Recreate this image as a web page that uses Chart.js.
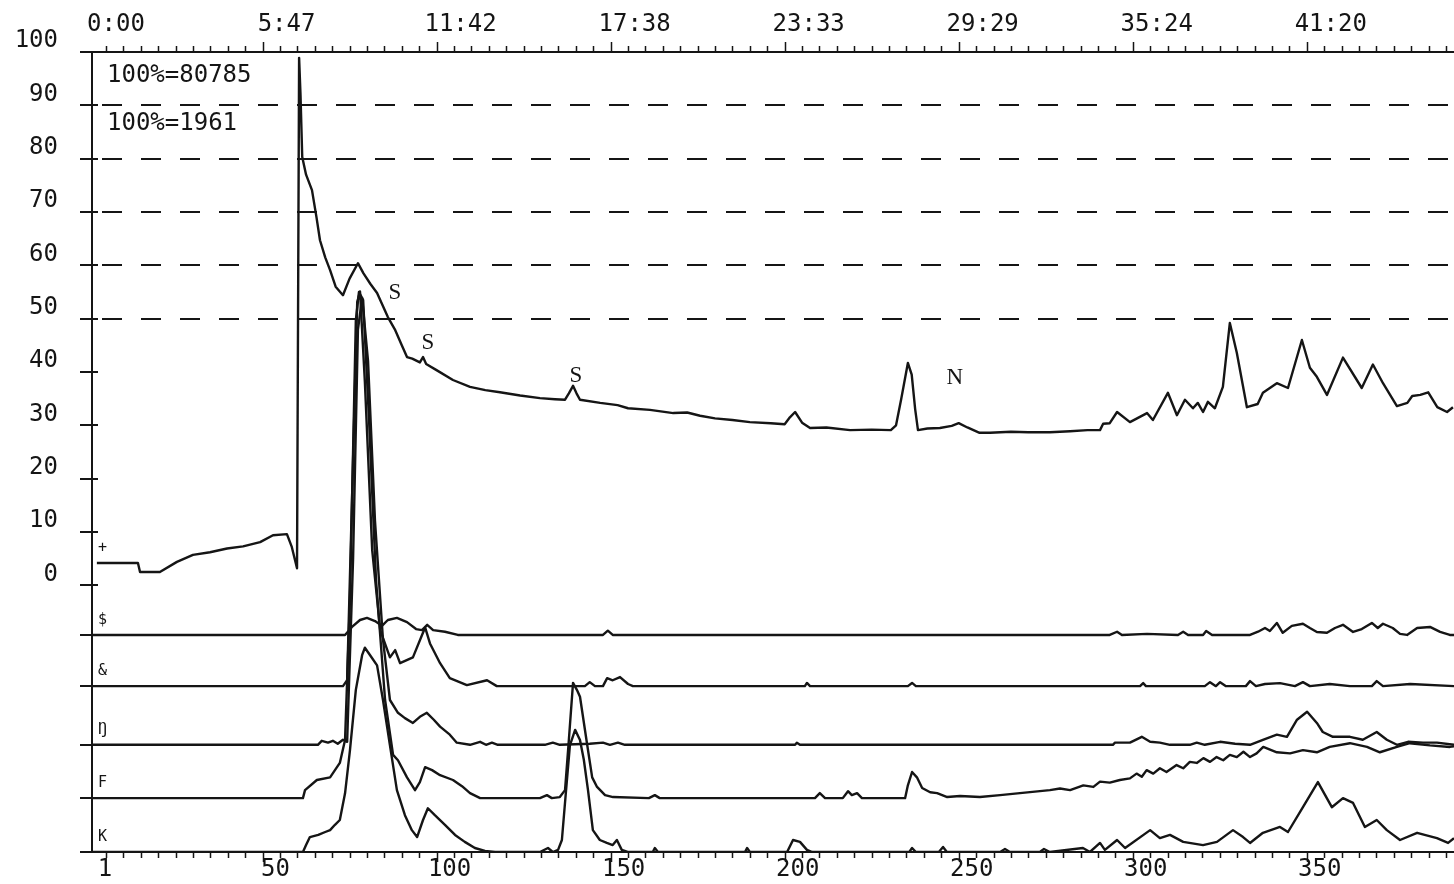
<!DOCTYPE html>
<html lang="en">
<head>
<meta charset="UTF-8">
<title>Chromatogram</title>
<script src="https://cdn.jsdelivr.net/npm/chart.js@4.4.1/dist/chart.umd.min.js"></script>
<style>
  html, body { margin: 0; padding: 0; background: #fff; }
  .wrap { position: relative; width: 1454px; height: 884px; }
</style>
</head>
<body>
<div class="wrap"><canvas id="chart"></canvas></div>
<script>
// axis labels
const scanLabels = [1, 50, 100, 150, 200, 250, 300, 350];
const timeLabels = ['0:00', '5:47', '11:42', '17:38', '23:33', '29:29', '35:24', '41:20'];
const yLabels = [0, 10, 20, 30, 40, 50, 60, 70, 80, 90, 100];
const dashedLevels = [50, 60, 70, 80, 90];

// total ion trace (+)
const scanTic = [2.4, 14.2, 14.8, 20.5, 25.4, 30, 34.9, 39.8, 44.4, 49.3, 53, 57, 58.4, 59.9, 60.5, 60.9, 61.4, 62.5, 64.2, 65.5, 66.5, 68, 69.4, 71, 73.1, 75, 77.4, 79, 81, 82.9, 86, 88, 90, 91.5, 93, 95.2, 96.1, 97, 100.1, 104.7, 109.6, 114, 118.2, 124, 129.7, 134, 136.9, 138, 139.2, 140.2, 141.2, 147, 152, 155, 161.3, 168, 172, 175.7, 180, 185, 190, 196, 200, 201.5, 203, 205, 207.3, 212, 218.8, 225, 230.5, 232, 233.5, 235.4, 236.5, 237.5, 238.3, 241, 244.6, 248, 250, 252.5, 256, 259, 265, 270, 276.2, 282, 287, 290.6, 291.5, 293.4, 295.5, 299.2, 304.1, 305.8, 310.1, 312.7, 315, 317.3, 318.7, 320.2, 321.6, 323.6, 325.9, 327.9, 329.9, 332.8, 335.9, 337.4, 341.4, 344.6, 348.6, 350.9, 352.9, 355.8, 360.4, 365.8, 369, 371.9, 375.9, 378.9, 380.3, 382.6, 384.9, 387.5, 390.3, 392];
const valTic = [4.2, 4.2, 2.5, 2.5, 4.4, 5.7, 6.2, 6.9, 7.3, 8.1, 9.4, 9.6, 7.2, 3.2, 98.9, 92, 80.3, 77, 74.1, 69, 64.7, 61.5, 59.1, 56, 54.4, 57.5, 60.4, 58.5, 56.5, 54.8, 50.3, 48, 45, 42.8, 42.5, 41.8, 42.8, 41.5, 40.3, 38.5, 37.2, 36.6, 36.2, 35.6, 35.1, 34.9, 34.8, 36, 37.4, 36, 34.8, 34.2, 33.8, 33.2, 32.9, 32.3, 32.4, 31.8, 31.3, 31.0, 30.6, 30.4, 30.2, 31.5, 32.5, 30.5, 29.5, 29.6, 29.1, 29.2, 29.1, 30, 35, 41.7, 39.5, 33, 29.1, 29.4, 29.5, 29.9, 30.4, 29.6, 28.6, 28.6, 28.8, 28.7, 28.7, 28.9, 29.1, 29.1, 30.3, 30.4, 32.5, 30.6, 32.3, 31, 36.1, 31.9, 34.8, 33.2, 34.2, 32.5, 34.4, 33.2, 37.2, 49.2, 43.6, 33.4, 34, 36.1, 37.9, 37, 46, 40.8, 39.1, 35.7, 42.7, 37, 41.4, 37.9, 33.6, 34.2, 35.5, 35.7, 36.2, 33.4, 32.5, 33.4];

// ion traces, relative to their own baseline
const scanDollar = [1, 73.7, 75.7, 78, 80, 82.3, 84.3, 86, 88.6, 91.5, 94.1, 95.8, 97.3, 99, 102.4, 106.1, 147.8, 149.2, 150.6, 293.4, 295.5, 296.9, 304.1, 313, 314.5, 315.9, 320.2, 321.1, 322.8, 333.7, 336, 338, 339.4, 341.4, 343.1, 345.7, 348.9, 350.9, 352.9, 355.8, 358.1, 360.4, 363.3, 365.8, 368.7, 370.4, 371.9, 374.7, 376.8, 378.8, 381.7, 385.4, 388.3, 391.1, 392.3];
const relDollar = [0, 0, 1.5, 2.8, 3.2, 2.6, 1.7, 2.8, 3.2, 2.4, 1.1, 0.9, 1.9, 0.9, 0.6, 0, 0, 0.8, 0, 0, 0.6, 0, 0.2, 0, 0.6, 0, 0, 0.75, 0, 0, 0.6, 1.3, 0.75, 2.25, 0.4, 1.7, 2.1, 1.3, 0.56, 0.4, 1.3, 1.9, 0.56, 1.1, 2.25, 1.3, 2.1, 1.3, 0.2, 0, 1.3, 1.5, 0.56, 0, 0];

const scanAmp = [1, 73.1, 74.3, 75.7, 77.2, 78, 79.4, 81.5, 83.8, 86.6, 88.1, 89.5, 93.2, 96.7, 98.1, 101, 103.8, 108.7, 114.5, 117.3, 142.6, 144, 145.5, 147.8, 149, 150.6, 152.7, 155, 156.4, 205.8, 206.4, 207.3, 235.4, 236.6, 237.7, 302.1, 303, 303.8, 320.7, 322.2, 323.9, 325.1, 326.8, 332.5, 333.7, 335.4, 338, 342.3, 346.6, 348.9, 350.9, 356.6, 362.4, 368.7, 370.1, 371.9, 379.7, 392.3];
const relAmp = [0, 0, 1.1, 35, 72, 74, 57, 25.5, 10.5, 5.4, 6.75, 4.3, 5.4, 11, 8, 4.3, 1.5, 0.2, 1.1, 0, 0, 0.75, 0, 0, 1.5, 1.1, 1.7, 0.4, 0, 0, 0.6, 0, 0, 0.6, 0, 0, 0.56, 0, 0, 0.75, 0, 0.75, 0, 0, 0.94, 0, 0.4, 0.56, 0, 0.75, 0, 0.4, 0, 0, 0.94, 0, 0.4, 0];

const scanEng = [1, 65.9, 67, 68.8, 70.2, 71.6, 73.1, 74.3, 76, 77.4, 78.6, 80.3, 82.3, 84.6, 86.6, 88.9, 90.9, 93.2, 95.2, 97.2, 99.2, 101, 103.8, 105.8, 109.6, 112.5, 114.2, 115.9, 117.6, 131.1, 133.4, 135.4, 144, 147.8, 149.8, 152.1, 154.1, 203, 203.5, 204.4, 294.3, 294.9, 299.2, 302.6, 305, 307.8, 310.7, 316.4, 318.4, 320.7, 325.1, 329.4, 333.7, 337.4, 341.4, 344.3, 347.2, 350.1, 352.9, 354.6, 357.5, 362.4, 366.1, 370.1, 373, 375.9, 379.1, 383.4, 387.4, 392.3];
const relEng = [0, 0, 0.75, 0.4, 0.75, 0.2, 0.94, 0.56, 34.7, 77.8, 83.8, 72, 42, 19.7, 8.4, 6, 5, 4.1, 5.25, 6, 4.7, 3.4, 1.9, 0.4, 0, 0.56, 0, 0.4, 0, 0, 0.4, 0, 0.2, 0.4, 0, 0.4, 0, 0, 0.4, 0, 0, 0.4, 0.4, 1.5, 0.56, 0.4, 0, 0, 0.4, 0, 0.56, 0.2, 0, 0.94, 1.9, 1.5, 4.7, 6.2, 4.1, 2.4, 1.5, 1.5, 0.94, 2.4, 0.94, 0, 0.56, 0.4, 0.4, 0];

const scanF = [1, 61.6, 62.2, 65.6, 69.4, 72.2, 73.7, 75.1, 76.8, 77.7, 78.9, 80.6, 82.6, 85.2, 87.5, 88.9, 91.5, 93.8, 95.2, 96.7, 98.7, 101, 104.7, 107.3, 109.6, 112.5, 129.7, 131.7, 133.1, 135.4, 136.9, 138, 139.2, 140.3, 141.2, 143.2, 144.7, 146.1, 148.4, 150.7, 161, 162.7, 164.1, 208.7, 210.1, 211.6, 216.7, 218.2, 219.3, 220.8, 222.2, 234.6, 235.4, 236.6, 238, 239.5, 241.8, 243.8, 246.7, 250.4, 256.1, 261.9, 267.6, 276.2, 279.1, 282, 285.8, 288.7, 290.6, 293.4, 296.3, 299.2, 301.1, 302.6, 304, 305.9, 307.8, 309.7, 312.6, 314.5, 316.4, 318.4, 320.3, 322.2, 324.1, 326, 327.9, 329.9, 331.8, 333.7, 335.6, 337.5, 341.4, 345.2, 348.9, 352.9, 356.6, 362.4, 367.3, 371, 375.9, 379.6, 385.4, 391.1, 392.3];
const relF = [0, 0, 1.5, 3.4, 3.9, 6.6, 10.9, 37, 89.6, 94.9, 93.4, 70.8, 40.9, 18.4, 8.1, 7.1, 3.9, 1.5, 3, 5.8, 5.25, 4.3, 3.4, 2.25, 0.94, 0, 0, 0.56, 0, 0.2, 1.5, 10.9, 21.6, 20.3, 19, 10.3, 3.9, 2.1, 0.56, 0.2, 0, 0.56, 0, 0, 0.94, 0, 0, 1.3, 0.56, 0.94, 0, 0, 2.4, 4.9, 3.9, 1.9, 1.1, 0.94, 0.2, 0.4, 0.2, 0.56, 0.94, 1.5, 1.8, 1.5, 2.4, 2.1, 3.1, 2.9, 3.4, 3.7, 4.6, 4.0, 5.25, 4.6, 5.6, 4.9, 6.2, 5.6, 6.8, 6.6, 7.5, 6.8, 7.7, 7.1, 8.1, 7.7, 8.7, 7.7, 8.4, 9.6, 8.6, 8.4, 9, 8.6, 9.6, 10.3, 9.6, 8.6, 9.6, 10.3, 9.9, 9.6, 9.7];

const scanK = [1, 61.6, 62.5, 63.6, 66, 68, 69.4, 70.8, 72.2, 73.7, 75.1, 76.8, 78.6, 79.4, 80.9, 82.9, 84.6, 86.6, 88.6, 90.9, 92.9, 94.4, 96.1, 97.5, 99.5, 102.4, 105.3, 108.1, 111, 113.9, 116.8, 129.7, 132, 133.4, 134.9, 136, 137.2, 138.3, 139.8, 141.2, 142.3, 143.5, 144.9, 146.9, 148.9, 150.6, 151.8, 153.2, 154.9, 162.1, 162.7, 163.6, 188.6, 189.2, 190, 200.7, 202.4, 204.4, 206.4, 207.9, 235.8, 236.6, 237.7, 244.3, 245.5, 246.6, 261.9, 263.3, 264.7, 273.3, 274.5, 276.2, 285.7, 287.7, 290.6, 292, 295.5, 297.8, 305, 307.8, 310.7, 314.5, 320.2, 324.2, 328.8, 331.7, 333.7, 337.4, 342.3, 344.6, 348.9, 353.2, 357.2, 360.4, 363.3, 366.7, 370.1, 373, 376.8, 381.7, 387.4, 390.6, 392.3];
const relK = [0, 0, 1.3, 2.8, 3.2, 3.75, 4.1, 5.1, 6, 11, 19, 30.4, 36.9, 38.3, 36.9, 35, 28.5, 20, 11.6, 6.9, 4.1, 2.8, 6, 8.2, 6.9, 5.1, 3.2, 1.9, 0.75, 0.2, 0, 0, 0.75, 0, 0.4, 2.25, 11.6, 20, 22.9, 21, 17.3, 11.6, 4.1, 2.25, 1.7, 1.3, 2.25, 0.4, 0, 0, 0.75, 0, 0, 0.75, 0, 0, 2.25, 1.9, 0.4, 0, 0, 0.75, 0, 0, 0.94, 0, 0, 0.56, 0, 0, 0.56, 0, 0.75, 0, 1.7, 0.4, 2.25, 0.75, 4.1, 2.6, 3.2, 1.9, 1.3, 1.9, 4.1, 2.8, 1.7, 3.6, 4.7, 3.75, 8.4, 13.1, 8.4, 10.1, 9.2, 4.7, 6, 4.1, 2.25, 3.6, 2.6, 1.7, 2.6];

// where each trace sits on the percent scale
const traceMarks = ['+', '$', '&', 'Ŋ', 'F', 'K'];
const traceBase = [4.2, -9.3, -18.9, -29.9, -39.9, -50];

const scaleNotes = ['100%=80785', '100%=1961'];
const peakNotes = ['S', 'S', 'S', 'N'];
const peakNoteScan = [88, 97.5, 140, 248.9];
const peakNoteVal = [54.8, 45.4, 39.2, 38.9];

const INK = '#151515';
const MONO = "'DejaVu Sans Mono', monospace";

function toPoints(xs, ys, off) {
    return xs.map((x, i) => ({ x: x, y: ys[i] + off }));
}

const traces = [
    toPoints(scanTic, valTic, 0),
    toPoints(scanDollar, relDollar, traceBase[1]),
    toPoints(scanAmp, relAmp, traceBase[2]),
    toPoints(scanEng, relEng, traceBase[3]),
    toPoints(scanF, relF, traceBase[4]),
    toPoints(scanK, relK, traceBase[5])
];

// pin the axis boxes so the plot lands where the scan has it
function pinBox(w, h) {
    return s => {
        if (w !== null) s.width = w;
        if (h !== null) s.height = h;
        s.paddingLeft = 0; s.paddingRight = 0;
        s.paddingTop = 0; s.paddingBottom = 0;
    };
}

const decor = {
    id: 'decor',
    beforeDatasetsDraw(chart) {
        const { ctx, chartArea: a, scales: { y } } = chart;
        ctx.save();
        ctx.strokeStyle = INK;
        ctx.lineWidth = 2;
        ctx.setLineDash([20, 19]);
        dashedLevels.forEach(v => {
            const py = Math.round(y.getPixelForValue(v));
            ctx.beginPath();
            ctx.moveTo(a.left + 10, py);
            ctx.lineTo(a.right, py);
            ctx.stroke();
        });
        ctx.setLineDash([]);
        ctx.restore();
    },
    afterDatasetsDraw(chart) {
        const { ctx, chartArea: a, scales: { x, y } } = chart;
        ctx.save();
        ctx.strokeStyle = INK;
        ctx.fillStyle = INK;
        ctx.lineWidth = 2;

        // frame lines
        ctx.beginPath();
        ctx.moveTo(a.left - 12, a.top); ctx.lineTo(a.right, a.top);
        ctx.moveTo(a.left - 12, a.bottom); ctx.lineTo(a.right, a.bottom);
        ctx.moveTo(a.left, a.top); ctx.lineTo(a.left, a.bottom);
        ctx.stroke();

        // scan ticks, top and bottom
        ctx.lineWidth = 1.5;
        ctx.beginPath();
        for (let s = 5; s <= x.max; s += 5) {
            const px = Math.round(x.getPixelForValue(s)) + 0.5;
            const big = s % 50 === 0;
            ctx.moveTo(px, a.top); ctx.lineTo(px, a.top - (big ? 10 : 6));
            ctx.moveTo(px, a.bottom); ctx.lineTo(px, a.bottom + (big ? 10 : 6));
        }
        ctx.stroke();

        // percent ticks crossing the left axis
        ctx.lineWidth = 2;
        ctx.beginPath();
        yLabels.forEach(v => {
            const py = Math.round(y.getPixelForValue(v));
            ctx.moveTo(a.left - 12, py); ctx.lineTo(a.left + 6, py);
        });
        traceBase.slice(1).forEach(v => {
            const py = Math.round(y.getPixelForValue(v));
            ctx.moveTo(a.left - 12, py); ctx.lineTo(a.left, py);
        });
        ctx.stroke();

        // trace markers
        ctx.font = '15px ' + MONO;
        ctx.textAlign = 'left';
        ctx.textBaseline = 'middle';
        traceMarks.forEach((m, i) => {
            ctx.fillText(m, a.left + 6, y.getPixelForValue(traceBase[i]) - 15);
        });

        // scale notes
        ctx.font = '24px ' + MONO;
        scaleNotes.forEach((t, i) => {
            ctx.fillText(t, a.left + 15, a.top + 24 + i * 48);
        });

        // peak letters
        ctx.font = "23px 'Liberation Serif', serif";
        ctx.textAlign = 'center';
        peakNotes.forEach((t, i) => {
            ctx.fillText(t, x.getPixelForValue(peakNoteScan[i]), y.getPixelForValue(peakNoteVal[i]));
        });
        ctx.restore();
    }
};

new Chart(document.getElementById('chart'), {
    type: 'line',
    data: {
        datasets: traces.map(pts => ({
            data: pts,
            borderColor: INK,
            borderWidth: 2.4,
            pointRadius: 0,
            tension: 0,
            fill: false,
            borderJoinStyle: 'round'
        }))
    },
    options: {
        responsive: true,
        maintainAspectRatio: false,
        animation: false,
        devicePixelRatio: 1,
        layout: { padding: { left: 14.6, top: 10.6, right: 0, bottom: 0 } },
        plugins: { legend: { display: false }, tooltip: { enabled: false } },
        scales: {
            x: {
                type: 'linear',
                position: 'bottom',
                min: 1,
                max: 392.3,
                grid: { display: false, drawTicks: false },
                border: { display: false },
                afterBuildTicks: s => { s.ticks = scanLabels.map(v => ({ value: v })); },
                afterFit: pinBox(null, 32),
                ticks: {
                    color: INK,
                    font: { family: MONO, size: 24 },
                    padding: 3.6,
                    labelOffset: 13,
                    maxRotation: 0,
                    autoSkip: false,
                    callback: v => String(v)
                }
            },
            x2: {
                type: 'linear',
                position: 'top',
                min: 1,
                max: 392.3,
                grid: { display: false, drawTicks: false },
                border: { display: false },
                afterBuildTicks: s => { s.ticks = scanLabels.map(v => ({ value: v })); },
                afterFit: pinBox(null, 41.4),
                ticks: {
                    color: INK,
                    font: { family: MONO, size: 24 },
                    padding: 12.6,
                    labelOffset: 24,
                    maxRotation: 0,
                    autoSkip: false,
                    callback: v => timeLabels[scanLabels.indexOf(v)]
                }
            },
            y: {
                type: 'linear',
                min: -50,
                max: 100,
                grid: { display: false, drawTicks: false },
                border: { display: false },
                afterBuildTicks: s => { s.ticks = yLabels.map(v => ({ value: v })); },
                afterFit: pinBox(77.4, null),
                ticks: {
                    color: INK,
                    font: { family: MONO, size: 24 },
                    padding: 34,
                    labelOffset: -11,
                    callback: v => String(v)
                }
            }
        }
    },
    plugins: [decor]
});
</script>
</body>
</html>
